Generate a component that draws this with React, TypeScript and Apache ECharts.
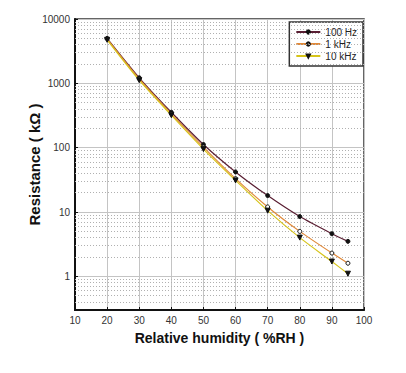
import React, { useEffect, useRef } from "react";
import * as echarts from "echarts";

const humidity = [20, 30, 40, 50, 60, 70, 80, 90, 95];
const r100Hz = [5000, 1220, 355, 112, 42, 18, 8.5, 4.6, 3.5];
const r1kHz = [4900, 1170, 335, 102, 33, 12, 5.0, 2.3, 1.6];
const r10kHz = [4750, 1120, 320, 95, 31, 10.5, 4.0, 1.7, 1.1];
const xTicks = [10, 20, 30, 40, 50, 60, 70, 80, 90, 100];
const yDecades = [1, 10, 100, 1000, 10000];
const minorLines = [
  0.4, 0.5, 0.6, 0.7, 0.8, 0.9,
  2, 3, 4, 5, 6, 7, 8, 9,
  20, 30, 40, 50, 60, 70, 80, 90,
  200, 300, 400, 500, 600, 700, 800, 900,
  2000, 3000, 4000, 5000, 6000, 7000, 8000, 9000,
];

export default function App() {
  const ref = useRef<HTMLDivElement>(null);
  useEffect(() => {
    const chart = echarts.init(ref.current!, null, { renderer: "svg" });
    const font = "'Liberation Sans', Arial, sans-serif";
    const mk = (name: string, data: number[], color: string, symbol: string, fill: string, size: number, rot = 0) => ({
      name,
      type: "line",
      data: humidity.map((h, i) => [h, data[i]]),
      smooth: 0.25,
      symbol,
      symbolSize: size,
      symbolRotate: rot,
      showAllSymbol: true,
      lineStyle: { color, width: 1.2 },
      itemStyle: { color: fill, borderColor: "#111", borderWidth: 1 },
      z: 5,
    });
    chart.setOption({
      animation: false,
      backgroundColor: "#fff",
      textStyle: { fontFamily: font },
      grid: { left: 67, top: 11, right: 34, bottom: 55, show: true, borderColor: "#333", borderWidth: 1.5 },
      legend: {
        orient: "vertical",
        right: 35,
        top: 14,
        backgroundColor: "#fff",
        borderColor: "#333",
        borderWidth: 1.5,
        padding: [5, 6, 5, 6],
        itemGap: 2,
        itemWidth: 24,
        itemHeight: 4,
        textStyle: { fontSize: 10, color: "#222", fontFamily: font },
        data: ["100 Hz", "1 kHz", "10 kHz"],
      },
      xAxis: {
        type: "value",
        min: 10,
        max: 100,
        interval: 10,
        name: "Relative humidity ( %RH )",
        nameLocation: "middle",
        nameGap: 21,
        nameTextStyle: { fontSize: 14, fontWeight: "bold", color: "#111", fontFamily: font },
        axisLine: { lineStyle: { color: "#111", width: 2 } },
        axisTick: { show: true, inside: true, length: 3, lineStyle: { color: "#111" } },
        axisLabel: {
          fontSize: 10,
          color: "#333",
          margin: 5,
          formatter: (v: number) => (xTicks.includes(v) ? String(v) : ""),
        },
        splitLine: { show: true, lineStyle: { color: "#c4c4c4", width: 1 } },
      },
      yAxis: {
        type: "log",
        logBase: 10,
        min: 0.3,
        max: 10000,
        name: "Resistance ( kΩ )",
        nameLocation: "middle",
        nameGap: 33,
        nameMoveOverlap: false,
        nameTextStyle: { fontSize: 15, fontWeight: "bold", color: "#111", fontFamily: font },
        axisLine: { show: true, lineStyle: { color: "#111", width: 2 } },
        axisTick: { show: true, inside: true, length: 3, lineStyle: { color: "#111" } },
        axisLabel: {
          fontSize: 10,
          color: "#333",
          margin: 5,
          formatter: (v: number) => {
            const hit = yDecades.find((d) => Math.abs(d - v) / d < 1e-6);
            return hit !== undefined ? String(hit) : "";
          },
        },
        splitLine: { show: true, lineStyle: { color: "#c4c4c4", width: 1 } },
      },
      series: [
        {
          name: "grid-minor",
          type: "line",
          data: [],
          silent: true,
          markLine: {
            silent: true,
            symbol: "none",
            label: { show: false },
            lineStyle: { color: "#b0b0b0", type: [1, 2], width: 1 },
            data: minorLines.map((v) => ({ yAxis: v })),
          },
          z: 1,
        },
        mk("100 Hz", r100Hz, "#5a1f33", "circle", "#111", 4),
        mk("1 kHz", r1kHz, "#e0893a", "circle", "#fff", 4),
        mk("10 kHz", r10kHz, "#d6c41a", "triangle", "#111", 5, 180),
      ],
    });
    return () => chart.dispose();
  }, []);
  return <div ref={ref} style={{ width: 390, height: 357 }} />;
}
